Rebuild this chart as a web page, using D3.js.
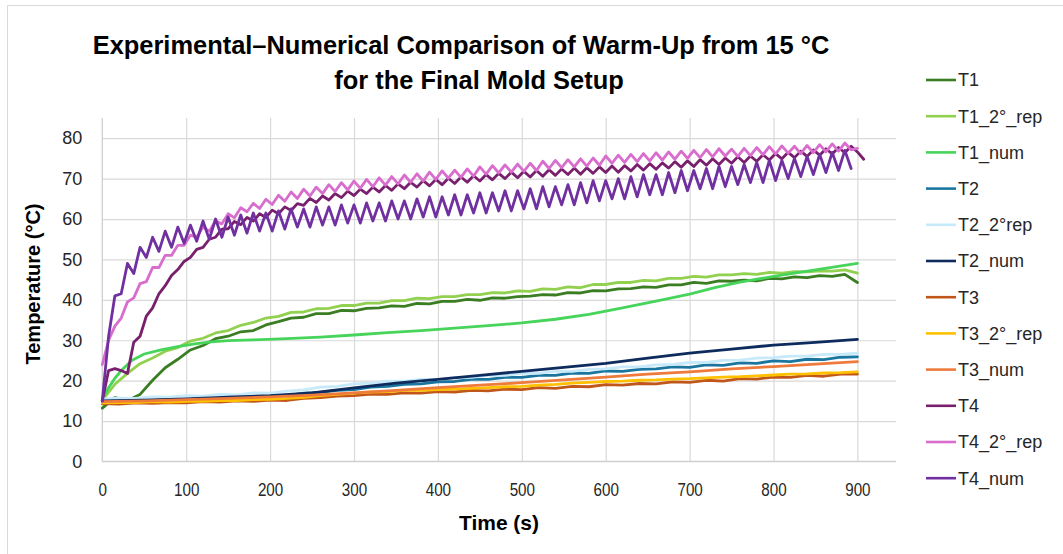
<!DOCTYPE html>
<html>
<head>
<meta charset="utf-8">
<script src="https://cdn.jsdelivr.net/npm/d3@7"></script>
<style>
    body { margin: 0; background: #fff; }
    svg { display: block; }
</style>
</head>
<body>
<svg id="chart" width="1063" height="554"></svg>
<script>
'use strict';

// ---- Données ----
const seriesNames = ["T1", "T1_2°_rep", "T1_num", "T2", "T2_2°rep", "T2_num",
    "T3", "T3_2°_rep", "T3_num", "T4", "T4_2°_rep", "T4_num"];
const seriesColors = ["#3B7D23", "#92D050", "#47D45A", "#1A759F", "#C6EAF9", "#0E2B5E",
    "#C0561A", "#FFC000", "#EE7B3C", "#78206E", "#D86DCD", "#7030A0"];

const xTicks = [0, 100, 200, 300, 400, 500, 600, 700, 800, 900];
const yTicks = [0, 10, 20, 30, 40, 50, 60, 70, 80];

// T1 / T1_2°_rep : un point toutes les 15 s
const stepT1 = 15;
const T1 = [13.2, 15.8, 15.1, 16.6, 20.1, 23.2, 25.3, 27.6, 28.7, 30.4, 31.0, 32.1, 32.4, 33.8, 34.6, 35.5,
    35.7, 36.6, 36.6, 37.4, 37.3, 37.9, 38.0, 38.5, 38.4, 39.1, 39.0, 39.6, 39.6, 40.1, 39.9, 40.5, 40.4,
    40.8, 40.9, 41.3, 41.2, 41.8, 41.7, 42.3, 42.2, 42.7, 42.8, 43.2, 43.1, 43.7, 43.7, 44.3, 44.1, 44.7,
    44.6, 44.9, 44.7, 45.3, 45.2, 45.7, 45.5, 46.0, 45.8, 46.3, 44.3];
const T1_2rep = [15.2, 19.1, 21.8, 24.2, 25.6, 27.3, 28.2, 29.8, 30.5, 31.8, 32.4, 33.7, 34.4, 35.5, 35.9,
    36.9, 37.0, 37.8, 37.9, 38.6, 38.6, 39.2, 39.2, 39.8, 39.8, 40.4, 40.3, 40.8, 40.8, 41.3, 41.3, 41.8,
    41.7, 42.2, 42.1, 42.7, 42.6, 43.2, 43.0, 43.8, 43.8, 44.3, 44.3, 44.8, 44.7, 45.3, 45.3, 45.8, 45.6,
    46.2, 46.2, 46.5, 46.3, 46.8, 46.6, 47.0, 46.9, 47.2, 47.1, 47.4, 46.6];
const timeT1num = [0, 7, 15, 23, 35, 50, 70, 90, 110, 130, 150, 180, 220, 260, 300, 340, 380, 420, 460,
    500, 540, 580, 620, 660, 700, 730, 760, 800, 850, 900];
const T1_num = [15.2, 18.1, 20.6, 22.6, 25.0, 26.6, 27.6, 28.4, 29.1, 29.6, 29.9, 30.1, 30.4, 30.8, 31.3,
    31.9, 32.4, 33.0, 33.6, 34.3, 35.2, 36.4, 38.0, 39.7, 41.4, 43.0, 44.4, 45.8, 47.4, 49.0];

// T2 / T3 expérimentaux : un point toutes les 20 s
const stepT23 = 20;
const T2 = [15.0, 14.8, 15.2, 15.1, 15.4, 15.3, 15.6, 15.5, 15.9, 15.8, 16.2, 16.3, 16.9, 17.1, 17.6, 17.8,
    18.4, 18.6, 19.1, 19.2, 19.7, 19.8, 20.3, 20.3, 20.8, 20.8, 21.3, 21.3, 21.9, 21.8, 22.4, 22.3, 22.8,
    22.9, 23.4, 23.3, 23.9, 23.8, 24.4, 24.3, 24.9, 24.7, 25.3, 25.2, 25.8, 25.9];
const T2_2rep = [15.5, 15.7, 15.6, 16.0, 15.9, 16.3, 16.2, 16.6, 16.5, 17.0, 16.9, 17.4, 17.7, 18.4, 18.6,
    19.2, 19.4, 19.9, 19.9, 20.3, 20.3, 20.8, 20.8, 21.3, 21.3, 21.8, 21.8, 22.3, 22.3, 22.8, 22.9, 23.4,
    23.4, 23.9, 24.0, 24.5, 24.5, 25.0, 25.1, 25.6, 25.7, 26.1, 26.1, 26.5, 26.5, 26.8];
const T3 = [14.3, 14.2, 14.5, 14.4, 14.6, 14.5, 14.8, 14.7, 15.0, 14.9, 15.2, 15.1, 15.6, 15.8, 16.2, 16.3,
    16.7, 16.6, 17.0, 16.9, 17.3, 17.2, 17.6, 17.5, 17.9, 17.8, 18.3, 18.1, 18.6, 18.5, 19.0, 18.9, 19.3,
    19.2, 19.7, 19.6, 20.1, 19.9, 20.5, 20.4, 20.9, 20.8, 21.3, 21.1, 21.6, 21.6];
const T3_2rep = [14.5, 14.6, 14.6, 14.8, 14.7, 14.9, 14.9, 15.1, 15.1, 15.3, 15.4, 15.6, 15.9, 16.3, 16.6,
    16.9, 17.2, 17.3, 17.6, 17.6, 17.8, 17.9, 18.1, 18.3, 18.5, 18.6, 18.9, 19.1, 19.4, 19.6, 19.8, 19.9,
    20.1, 20.2, 20.4, 20.5, 20.7, 20.9, 21.0, 21.2, 21.4, 21.6, 21.7, 21.9, 22.0, 22.2];

// T2_num / T3_num : un point toutes les 50 s
const timeNum = [0, 50, 100, 150, 200, 250, 300, 350, 400, 450, 500, 550, 600, 650, 700, 750, 800, 850, 900];
const T2_num = [15.0, 15.2, 15.5, 15.9, 16.3, 17.0, 18.2, 19.4, 20.3, 21.3, 22.3, 23.3, 24.3, 25.6, 26.8,
    27.8, 28.8, 29.5, 30.2];
const T3_num = [14.8, 15.0, 15.3, 15.6, 16.0, 16.4, 17.0, 17.6, 18.3, 18.9, 19.5, 20.2, 20.9, 21.6, 22.2,
    22.9, 23.5, 24.1, 24.7];

// Série T4 : un point toutes les 7,5 s (oscillations d'environ 15 s)
const stepT4 = 7.5;
const T4 = [15, 22.5, 23, 22.5, 21.8, 29.5, 31, 36, 38, 41.5, 43.5, 46, 47.5, 49.5, 50.5, 52.5, 53, 55, 55.5,
    57.5, 57.6, 59.4, 58.6, 60.4, 59.5, 61.3, 60.4, 62.2, 61.3, 63.0, 62.1, 63.8, 63.4, 65.1, 64.1, 65.7,
    64.7, 66.3, 65.3, 66.9, 65.8, 67.4, 66.3, 67.9, 66.7, 68.3, 67.1, 68.7, 67.5, 69.1, 67.9, 69.5, 68.2,
    69.8, 68.5, 70.1, 68.8, 70.4, 69.1, 70.7, 69.4, 71.0, 69.7, 71.3, 70.0, 71.6, 70.2, 71.8, 70.4, 72.0,
    70.6, 72.2, 70.8, 72.4, 71.0, 72.6, 71.1, 72.7, 71.3, 72.9, 71.5, 73.1, 71.6, 73.2, 71.9, 73.5, 72.1,
    73.7, 72.3, 73.9, 72.6, 74.2, 72.8, 74.4, 73.0, 74.7, 73.3, 74.9, 73.5, 75.1, 73.8, 75.4, 74.0, 75.6,
    74.3, 75.9, 74.6, 76.2, 74.9, 76.5, 75.2, 76.8, 75.5, 77.1, 75.8, 77.4, 76.1, 77.7, 76.4, 78.0, 76.6, 74.8];
const T4_2rep = [24, 30, 33.5, 35.5, 39.5, 40.5, 44, 44.5, 48, 48, 51, 51, 53.5, 53.5, 56, 55.5, 58, 57,
    59.5, 58.8, 61.3, 60.3, 62.8, 61.8, 63.9, 62.6, 64.9, 63.6, 65.9, 64.4, 66.7, 65.1, 67.4, 65.7, 67.9,
    66.3, 68.5, 66.8, 69.0, 67.2, 69.4, 67.6, 69.8, 68.0, 70.2, 68.4, 70.5, 68.7, 70.9, 69.1, 71.2, 69.4,
    71.6, 69.8, 71.9, 70.1, 72.1, 70.3, 72.4, 70.6, 72.9, 71.1, 73.2, 71.4, 73.4, 71.6, 73.6, 71.8, 73.8,
    72.0, 74.3, 72.5, 74.5, 72.7, 74.7, 72.9, 74.9, 73.1, 75.1, 73.3, 75.6, 73.8, 75.8, 74.0, 76.0, 74.2,
    76.2, 74.4, 76.4, 74.6, 76.6, 74.8, 76.8, 75.0, 77.0, 75.2, 77.2, 75.4, 77.4, 75.6, 77.3, 75.5, 77.5,
    75.7, 77.7, 75.9, 77.9, 76.1, 78.1, 76.3, 78.0, 76.2, 78.2, 76.4, 78.4, 76.6, 78.6, 76.8, 78.8, 77.1, 77.5];
const T4_num = [15, 31, 41, 41.5, 49, 46.5, 53, 50.5, 55.5, 52, 57, 53, 58, 54, 58.5, 54.5, 59.5, 55, 60,
    55.5, 60.5, 56, 61, 56.5, 61.5, 57, 61.5, 57, 62, 57.5, 62.5, 58, 62.5, 58, 63, 58.5, 63, 58.5, 63.5,
    59, 63.5, 59, 64, 59.5, 64, 59.5, 64.5, 60, 64.5, 60, 65, 60.5, 65.5, 60.5, 65.5, 61, 66, 61, 66, 61.5,
    66.5, 61.5, 66.5, 62, 67, 62, 67, 62.5, 67.5, 62.5, 68, 63, 68, 63.5, 68.5, 63.5, 69, 64, 69.5, 64.5,
    69.5, 65, 70, 65, 70.5, 65.5, 71, 66, 71, 66, 71.5, 66.5, 72, 67, 72, 67.5, 72.5, 67.5, 73, 68, 73,
    68.5, 73.5, 69, 74, 69, 74.5, 69.5, 74.5, 70, 75, 70.5, 75.5, 71, 76, 71.5, 76.5, 72, 77, 72.5];

/**
 * Série échantillonnée à pas constant --> liste de [temps, valeur]
 */
function echantillons(pas, valeurs) {
    return valeurs.map((v, i) => [i * pas, v]);
}

/**
 * Série avec ses propres instants --> liste de [temps, valeur]
 */
function paires(temps, valeurs) {
    return temps.map((t, i) => [t, valeurs[i]]);
}

const seriesData = [
    echantillons(stepT1, T1), echantillons(stepT1, T1_2rep), paires(timeT1num, T1_num),
    echantillons(stepT23, T2), echantillons(stepT23, T2_2rep), paires(timeNum, T2_num),
    echantillons(stepT23, T3), echantillons(stepT23, T3_2rep), paires(timeNum, T3_num),
    echantillons(stepT4, T4), echantillons(stepT4, T4_2rep), echantillons(stepT4, T4_num)
];

// ---- Dessin ----
const svg = d3.select("#chart");
const FONT = "'Liberation Sans', Arial, sans-serif";
const TEXTE = "#262626";

const x = d3.scaleLinear().domain([0, 946]).range([102.3, 896]);
const y = d3.scaleLinear().domain([0, 85]).range([461.5, 118]);

/**
 * Compresser un texte horizontalement (police étroite) pour obtenir la largeur voulue
 */
function compresser(texte, largeur) {
    const w = texte.node().getComputedTextLength();
    const cx = +texte.attr("x");
    texte.attr("x", 0)
        .attr("transform", `translate(${cx},0) scale(${largeur / w},1)`);
}

// cadre du graphique
svg.append("rect")
    .attr("x", 7.5).attr("y", 5.5)
    .attr("width", 1062).attr("height", 560)
    .attr("fill", "none").attr("stroke", "#d9d9d9");

// quadrillage
svg.append("g")
    .attr("transform", `translate(${x(0)},0)`)
    .call(d3.axisLeft(y).tickValues(yTicks.slice(1)).tickSize(-(x.range()[1] - x(0))).tickFormat(""))
    .call(g => g.select(".domain").remove())
    .call(g => g.selectAll("line").attr("stroke", "#d9d9d9").attr("stroke-width", 1.2));

svg.append("g")
    .attr("transform", `translate(0,${y(0)})`)
    .call(d3.axisBottom(x).tickValues(xTicks.slice(1)).tickSize(-(y(0) - y.range()[1])).tickFormat(""))
    .call(g => g.select(".domain").remove())
    .call(g => g.selectAll("line").attr("stroke", "#d9d9d9").attr("stroke-width", 1.2));

// lignes des axes
svg.append("line")
    .attr("x1", x(0)).attr("x2", x(0))
    .attr("y1", y.range()[1]).attr("y2", y(0))
    .attr("stroke", "#cfcfcf").attr("stroke-width", 1.3);
svg.append("line")
    .attr("x1", x(0)).attr("x2", x.range()[1])
    .attr("y1", y(0)).attr("y2", y(0))
    .attr("stroke", "#cfcfcf").attr("stroke-width", 1.3);

// étiquettes des axes
svg.append("g")
    .attr("transform", `translate(${x(0)},0)`)
    .call(d3.axisLeft(y).tickValues(yTicks).tickSize(0).tickPadding(20))
    .call(g => g.select(".domain").remove())
    .call(g => g.selectAll("text")
        .style("font-family", FONT).style("font-size", "18px").attr("fill", TEXTE));

svg.append("g")
    .attr("transform", `translate(0,${y(0)})`)
    .call(d3.axisBottom(x).tickValues(xTicks).tickSize(0).tickPadding(21))
    .call(g => g.select(".domain").remove())
    .call(g => g.selectAll("text")
        .style("font-family", FONT).style("font-size", "19px").attr("fill", TEXTE)
        .attr("transform", "scale(0.8,1)"));

// courbes
const ligne = d3.line().x(d => x(d[0])).y(d => y(d[1]));

svg.append("g")
    .selectAll("path")
    .data(seriesData)
    .join("path")
    .attr("d", ligne)
    .attr("fill", "none")
    .attr("stroke", (d, i) => seriesColors[i])
    .attr("stroke-width", 2.8)
    .attr("stroke-linejoin", "round")
    .attr("stroke-linecap", "round");

// titre
const titre1 = svg.append("text")
    .attr("x", 461).attr("y", 54)
    .attr("text-anchor", "middle")
    .style("font-family", FONT).style("font-weight", "bold").style("font-size", "26px")
    .attr("fill", "#000")
    .text("Experimental–Numerical Comparison of Warm-Up from 15 °C");
const echelleTitre = 737 / titre1.node().getComputedTextLength();
compresser(titre1, 737);

const titre2 = svg.append("text")
    .attr("x", 479).attr("y", 89)
    .attr("text-anchor", "middle")
    .style("font-family", FONT).style("font-weight", "bold").style("font-size", "26px")
    .attr("fill", "#000")
    .text("for the Final Mold Setup");
compresser(titre2, titre2.node().getComputedTextLength() * echelleTitre);

// titres des axes
svg.append("text")
    .attr("transform", "translate(40,284) rotate(-90)")
    .attr("text-anchor", "middle")
    .style("font-family", FONT).style("font-weight", "bold").style("font-size", "20px")
    .attr("fill", "#000")
    .text("Temperature (°C)");

const titreX = svg.append("text")
    .attr("x", 499).attr("y", 530)
    .attr("text-anchor", "middle")
    .style("font-family", FONT).style("font-weight", "bold").style("font-size", "21px")
    .attr("fill", "#000")
    .text("Time (s)");
compresser(titreX, 80);

// légende
const legende = svg.append("g")
    .selectAll("g")
    .data(seriesNames)
    .join("g")
    .attr("transform", (d, i) => `translate(926,${80 + i * 36.2})`);

legende.append("line")
    .attr("x1", 0).attr("x2", 30)
    .attr("stroke", (d, i) => seriesColors[i])
    .attr("stroke-width", 2.6);

legende.append("text")
    .attr("x", 32).attr("dy", "0.35em")
    .style("font-family", FONT).style("font-size", "18px")
    .attr("fill", TEXTE)
    .text(d => d);
</script>
</body>
</html>
